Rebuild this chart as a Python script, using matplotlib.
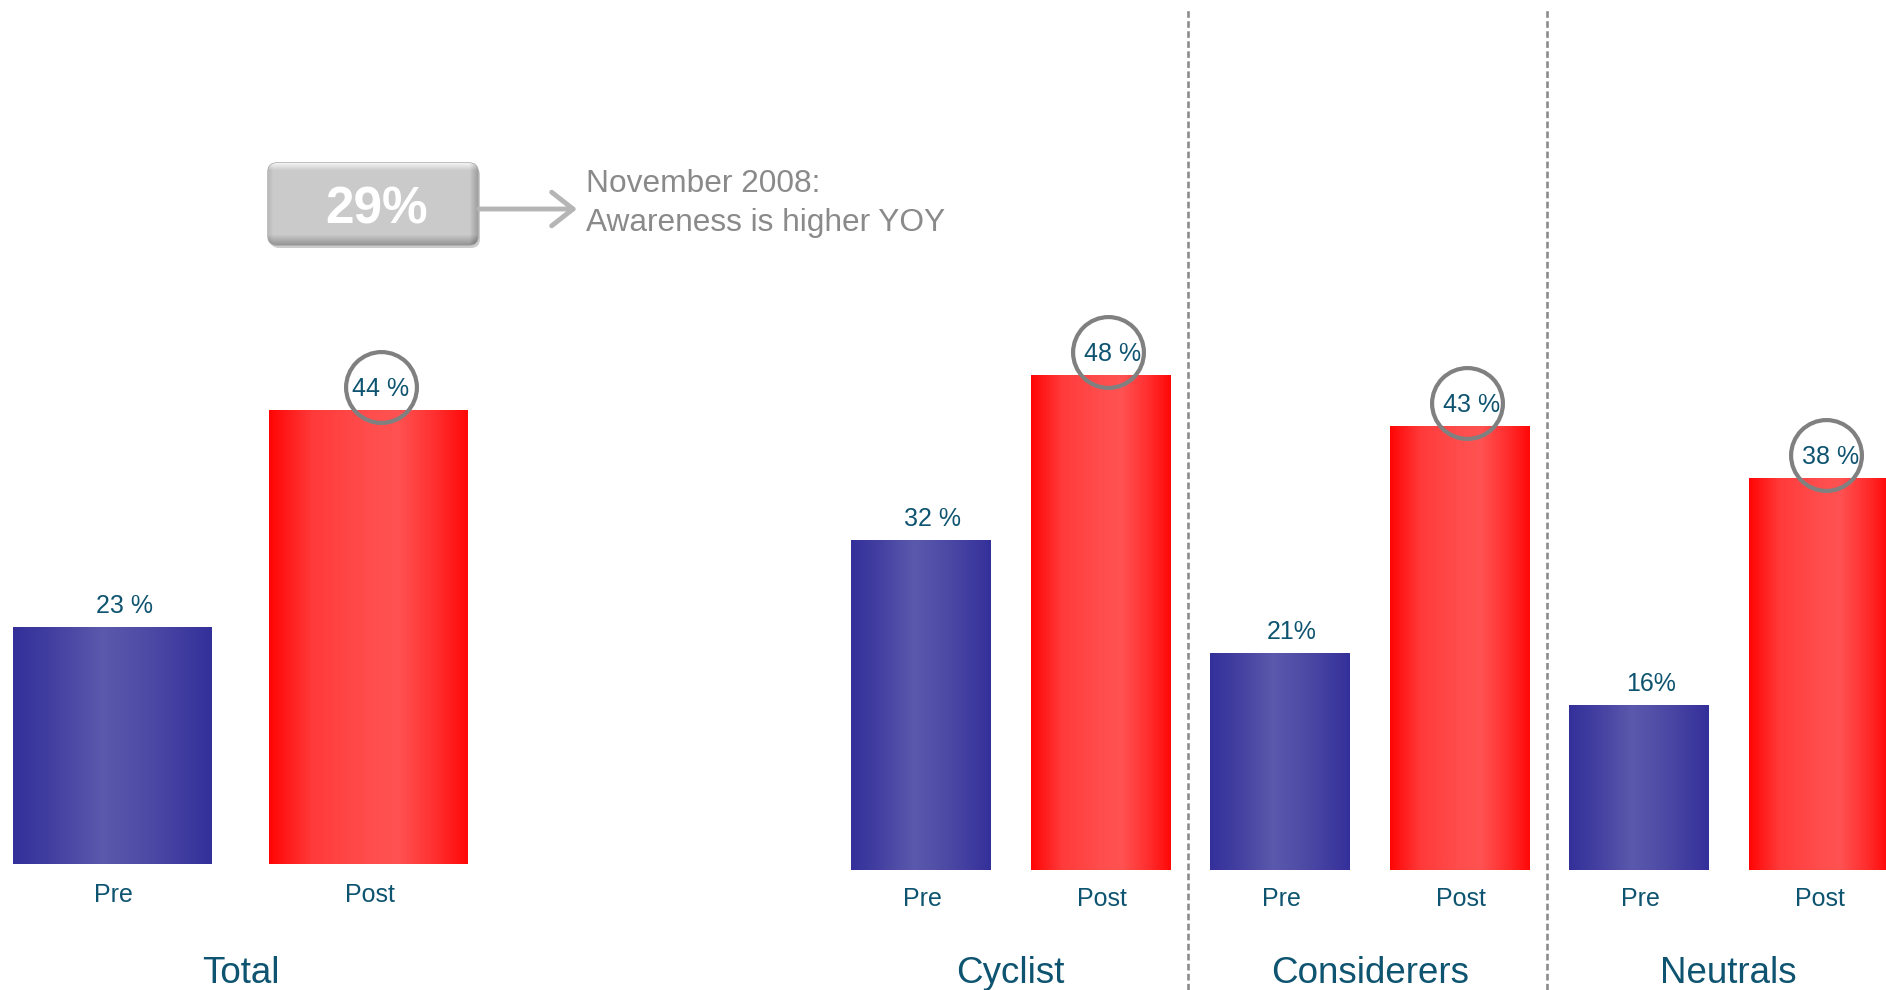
import numpy as np
import matplotlib
matplotlib.use('Agg')
import matplotlib.pyplot as plt
from matplotlib.colors import LinearSegmentedColormap
from matplotlib.patches import FancyBboxPatch
from matplotlib.transforms import offset_copy

plt.rcParams['font.family'] = ['Liberation Sans', 'DejaVu Sans']

######## DATA ########

groups = ['Total', 'Cyclist', 'Considerers', 'Neutrals']
pre = [23, 32, 21, 16]
post = [44, 48, 43, 38]
pre_labels = ['23 %', '32 %', '21%', '16%']
post_labels = ['44 %', '48 %', '43 %', '38 %']
bar_names = ['Pre', 'Post']
callout_value = '29%'
callout_lines = ['November 2008:', 'Awareness is higher YOY']

######## STYLE ########

W, H, DPI = 1886, 990, 100
SCALE = 10.32          # pixels per percentage point
TEAL = '#0e5470'
CIRCLE = '#808080'

blue_cmap = LinearSegmentedColormap.from_list('pre', [
    (0.0, '#34309a'), (0.2, '#4340a1'), (0.45, '#5b59ac'),
    (0.7, '#4c49a5'), (1.0, '#34309a')])
red_cmap = LinearSegmentedColormap.from_list('post', [
    (0.0, '#ff0505'), (0.22, '#ff3a3a'), (0.5, '#ff4d4d'),
    (0.65, '#ff5252'), (0.85, '#ff2c2c'), (1.0, '#ff0808')])

fig = plt.figure(figsize=(W / DPI, H / DPI), dpi=DPI)
fig.patch.set_facecolor('white')


def add_panel(left, width, baseline):
    # bottom edge of the axes is the bar baseline (pixels from the top)
    ax = fig.add_axes([left / W, (H - baseline) / H, width / W, baseline / H])
    ax.axis('off')
    return ax


def px(ax, dx=0, dy=0):
    return offset_copy(ax.transData, fig=fig, x=dx, y=dy, units='dots')


def gradient_bar(ax, rect, cmap):
    x0, y0 = rect.get_x(), rect.get_y()
    w, h = rect.get_width(), rect.get_height()
    grad = np.linspace(0, 1, 256).reshape(1, -1)
    im = ax.imshow(grad, extent=(x0, x0 + w, y0, y0 + h), aspect='auto',
                   cmap=cmap, interpolation='bicubic', zorder=2)
    im.set_clip_path(rect)


def draw_group(ax, gi, x_pre, x_post, width, baseline, ring_dx):
    for x, v, cmap, lab in [(x_pre, pre[gi], blue_cmap, pre_labels[gi]),
                            (x_post, post[gi], red_cmap, post_labels[gi])]:
        rect = ax.bar(x, v, width=width, color='none', edgecolor='none')[0]
        gradient_bar(ax, rect, cmap)
        ax.text(x, v, lab, transform=px(ax, 12, 14), ha='center',
                va='baseline', fontsize=18, color=TEAL, zorder=6)
    # highlight ring around the post value
    ax.plot([x_post], [post[gi]], 'o', ms=51, mfc='none', mec=CIRCLE,
            mew=3.0, transform=px(ax, ring_dx, 23), clip_on=False, zorder=5)
    name_dy = -38 if baseline == 864 else -36.5
    for x, name in zip([x_pre, x_post], bar_names):
        ax.text(x, 0, name, transform=px(ax, 1, name_dy),
                ha='center', va='baseline', fontsize=18, color=TEAL)
    ax.text((x_pre + x_post) / 2, 0, groups[gi],
            transform=px(ax, 0, -(983 - baseline)), ha='center',
            va='baseline', fontsize=26.5, color=TEAL)


######## TOTAL ########

ax_total = add_panel(0, 620, 864)
draw_group(ax_total, 0, 0, 1, 199 / 256, 864, 12)
ax_total.set_xlim(-112.5 / 256, -112.5 / 256 + 620 / 256)
ax_total.set_ylim(0, 864 / SCALE)

######## SEGMENTS ########

ax_seg = add_panel(700, 1186, 870)
for k in range(1, 4):
    draw_group(ax_seg, k, 2 * (k - 1), 2 * (k - 1) + 1, 140 / 179.5, 870, 7)
ax_seg.set_xlim(-221 / 179.5, -221 / 179.5 + 1186 / 179.5)
ax_seg.set_ylim(0, 870 / SCALE)

# dashed separators between segments
for xd in [1.488, 3.488]:
    ax_seg.axvline(xd, ymin=-120 / 870, ymax=1 - 10 / 870, clip_on=False,
                   color='#8c8c8c', lw=1.9, ls=(0, (2.5, 1.3)))

######## CALLOUT ########

ax_note = fig.add_axes([0, 0, 1, 1])
ax_note.set_xlim(0, W)
ax_note.set_ylim(H, 0)
ax_note.axis('off')

bx, by, bw, bh = 268, 163, 210, 82
shadow = FancyBboxPatch((bx + 2, by + 3), bw, bh,
                        boxstyle='round,pad=0,rounding_size=9',
                        fc='#8f8f8f', ec='none', alpha=0.45, zorder=1)
ax_note.add_patch(shadow)
box = FancyBboxPatch((bx, by), bw, bh, boxstyle='round,pad=0,rounding_size=9',
                     fc='#c9c9c9', ec='#a5a5a5', lw=1, zorder=2)
ax_note.add_patch(box)

# bevelled shading of the value box
yy, xx = np.mgrid[0:bh, 0:bw].astype(float)
shade = np.full((bh, bw), 0.79)
shade += np.where(yy < 7, 0.15 * (1 - yy / 7), 0)
shade -= np.where(yy > bh - 11, 0.22 * (yy - (bh - 11)) / 11, 0)
shade -= np.where(xx > bw - 9, 0.18 * (xx - (bw - 9)) / 9, 0)
shade -= np.where(xx < 5, 0.06 * (1 - xx / 5), 0)
im = ax_note.imshow(shade, extent=(bx, bx + bw, by + bh, by), cmap='gray',
                    vmin=0, vmax=1, aspect='auto', interpolation='bilinear',
                    zorder=3)
im.set_clip_path(box)
ax_note.set_xlim(0, W)
ax_note.set_ylim(H, 0)

ax_note.text(bx + bw / 2 + 4, 224, callout_value, ha='center', va='baseline',
             fontsize=37, fontweight='bold', color='white', zorder=4)

ax_note.annotate('', xy=(577, 209), xytext=(bx + bw + 1, 209),
                 arrowprops=dict(arrowstyle='->,head_length=0.7,head_width=0.55',
                                 color='#b5b5b5', lw=3.5, mutation_scale=22,
                                 shrinkA=0, shrinkB=0))

for line, yb in zip(callout_lines, [192, 231]):
    ax_note.text(586, yb, line, ha='left', va='baseline', fontsize=22.8,
                 color='#8a8a8a')

fig.savefig('out.png', dpi=DPI)
